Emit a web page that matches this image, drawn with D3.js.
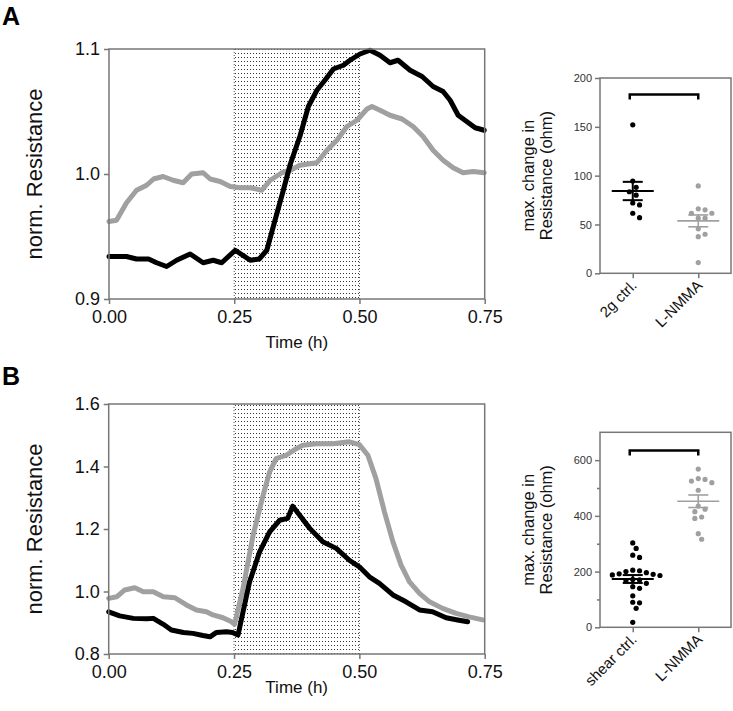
<!DOCTYPE html>
<html>
<head>
<meta charset="utf-8">
<script src="https://cdn.jsdelivr.net/npm/d3@7"></script>
<style>
  body { margin: 0; background: #fff; }
  svg { display: block; font-family: "Liberation Sans", Arial, sans-serif; }
</style>
</head>
<body>
<svg id="fig" width="733" height="711"></svg>
<script>
// panel A traces (time in h, normalised resistance)
var timeA_ctrl = [0, 0.035, 0.055, 0.079, 0.095, 0.115, 0.135, 0.162, 0.188, 0.208, 0.225, 0.252, 0.282, 0.300,
  0.315, 0.328, 0.348, 0.362, 0.381, 0.398, 0.415, 0.431, 0.448, 0.468, 0.481, 0.501, 0.521, 0.541, 0.561,
  0.577, 0.601, 0.625, 0.647, 0.667, 0.681, 0.697, 0.714, 0.731, 0.749];
var resA_ctrl = [0.934, 0.934, 0.932, 0.932, 0.929, 0.926, 0.931, 0.936, 0.929, 0.931, 0.929, 0.939, 0.931, 0.932,
  0.939, 0.958, 0.987, 1.008, 1.030, 1.054, 1.067, 1.075, 1.084, 1.087, 1.091, 1.096, 1.099, 1.095, 1.089,
  1.091, 1.083, 1.078, 1.070, 1.066, 1.059, 1.047, 1.042, 1.037, 1.035];
var timeA_nmma = [0, 0.015, 0.035, 0.055, 0.075, 0.089, 0.108, 0.128, 0.148, 0.165, 0.188, 0.202, 0.222, 0.242,
  0.262, 0.282, 0.305, 0.322, 0.345, 0.362, 0.381, 0.415, 0.435, 0.455, 0.475, 0.495, 0.515, 0.525, 0.541,
  0.561, 0.585, 0.607, 0.627, 0.647, 0.667, 0.687, 0.707, 0.727, 0.749];
var resA_nmma = [0.962, 0.963, 0.977, 0.987, 0.991, 0.996, 0.998, 0.995, 0.993, 1.000, 1.001, 0.996, 0.994, 0.990,
  0.989, 0.989, 0.987, 0.995, 1.001, 1.003, 1.007, 1.009, 1.019, 1.027, 1.038, 1.043, 1.052, 1.054, 1.051,
  1.047, 1.044, 1.038, 1.030, 1.019, 1.011, 1.005, 1.001, 1.002, 1.001];

// panel B traces
var timeB_ctrl = [0, 0.022, 0.049, 0.076, 0.089, 0.109, 0.125, 0.149, 0.168, 0.188, 0.202, 0.215, 0.235, 0.247,
  0.258, 0.268, 0.281, 0.301, 0.321, 0.341, 0.357, 0.367, 0.381, 0.401, 0.427, 0.454, 0.480, 0.500, 0.520,
  0.540, 0.567, 0.593, 0.620, 0.646, 0.673, 0.696, 0.716];
var resB_ctrl = [0.935, 0.922, 0.914, 0.913, 0.914, 0.895, 0.877, 0.869, 0.866, 0.859, 0.855, 0.869, 0.871, 0.869,
  0.861, 0.935, 1.031, 1.127, 1.191, 1.228, 1.234, 1.273, 1.244, 1.202, 1.159, 1.138, 1.100, 1.079, 1.047,
  1.026, 0.989, 0.967, 0.941, 0.935, 0.916, 0.909, 0.903];
var timeB_nmma = [0, 0.016, 0.032, 0.052, 0.069, 0.089, 0.109, 0.132, 0.155, 0.175, 0.195, 0.208, 0.228, 0.245,
  0.251, 0.268, 0.288, 0.308, 0.321, 0.334, 0.354, 0.374, 0.387, 0.414, 0.447, 0.480, 0.500, 0.517, 0.533,
  0.550, 0.567, 0.583, 0.600, 0.620, 0.640, 0.666, 0.693, 0.719, 0.746];
var resB_nmma = [0.978, 0.983, 1.005, 1.012, 0.999, 0.999, 0.983, 0.980, 0.957, 0.941, 0.935, 0.925, 0.916, 0.903,
  0.895, 1.010, 1.180, 1.308, 1.383, 1.425, 1.436, 1.457, 1.468, 1.473, 1.473, 1.479, 1.470, 1.436, 1.362,
  1.255, 1.159, 1.085, 1.031, 0.994, 0.967, 0.946, 0.930, 0.919, 0.909];

var timeTicks = [0, 0.25, 0.5, 0.75];
var resTicksA = [0.9, 1.0, 1.1];
var resTicksB = [0.8, 1.0, 1.2, 1.4, 1.6];
var stimWindow = [0.25, 0.5];

// max. change in resistance (ohm)
var groupsA = ['2g ctrl.', 'L-NMMA'];
var maxA_ctrl = [152, 94.5, 88, 83.5, 80, 72, 70, 61.5, 57];
var maxA_nmma = [89.5, 66, 65, 61.5, 61.5, 56.5, 56.5, 45.5, 40, 37.5, 11];
var ohmTicksA = [0, 50, 100, 150, 200];
var bracketA = 183;

var groupsB = ['shear ctrl.', 'L-NMMA'];
var maxB_ctrl = [303, 283, 259, 251, 205, 203, 200, 196, 192, 190, 188, 186, 172, 170, 168, 158, 146, 140,
  113, 90, 88, 68, 18];
var maxB_nmma = [568, 531, 519, 525, 534, 492, 435, 424, 415, 396, 391, 336, 316];
var ohmTicksB = [0, 200, 400, 600];
var ohmMinorB = [100, 300, 500];
var bracketB = 635;

(function() {
  var svg = d3.select('#fig');
  var frameColor = '#777', black = '#000', gray = '#a0a0a0';

  // dotted fill for the stimulation window
  var pat = svg.append('defs').append('pattern')
    .attr('id', 'dots').attr('patternUnits', 'userSpaceOnUse')
    .attr('width', 3).attr('height', 4);
  pat.append('rect').attr('x', 1).attr('y', 1).attr('width', 1).attr('height', 1).attr('fill', '#333');

  function styleAxis(g, size, color) {
    g.select('.domain').remove();
    g.selectAll('line').attr('stroke', frameColor).attr('stroke-width', 1.5);
    g.selectAll('text').attr('font-size', size).attr('fill', color)
      .attr('font-family', '"Liberation Sans", Arial, sans-serif');
  }

  function tracePanel(o) {
    var x = d3.scaleLinear().domain([0, 0.75]).range([o.left, o.right]);
    var y = d3.scaleLinear().domain(o.yDomain).range([o.bottom, o.top]);
    var g = svg.append('g');

    g.append('rect')
      .attr('x', x(stimWindow[0])).attr('y', o.top)
      .attr('width', x(stimWindow[1]) - x(stimWindow[0])).attr('height', o.bottom - o.top)
      .attr('fill', 'url(#dots)');
    stimWindow.forEach(function(t) {
      g.append('line').attr('x1', x(t)).attr('x2', x(t)).attr('y1', o.top).attr('y2', o.bottom)
        .attr('stroke', '#555').attr('stroke-dasharray', '1,2');
    });

    var line = d3.line()
      .x(function(d) { return x(d[0]); })
      .y(function(d) { return y(d[1]); });

    o.traces.forEach(function(tr) {
      g.append('path')
        .datum(d3.zip(tr.t, tr.v))
        .attr('d', line)
        .attr('fill', 'none')
        .attr('stroke', tr.color)
        .attr('stroke-width', 5)
        .attr('stroke-linejoin', 'round')
        .attr('stroke-linecap', 'round');
    });

    g.append('rect')
      .attr('x', o.left).attr('y', o.top)
      .attr('width', o.right - o.left).attr('height', o.bottom - o.top)
      .attr('fill', 'none').attr('stroke', frameColor).attr('stroke-width', 1.5);

    g.append('g').attr('transform', 'translate(0,' + o.bottom + ')')
      .call(d3.axisBottom(x).tickValues(timeTicks).tickFormat(d3.format('.2f')).tickSize(5).tickPadding(6))
      .call(styleAxis, 18, '#111');
    g.append('g').attr('transform', 'translate(' + o.left + ',0)')
      .call(d3.axisLeft(y).tickValues(o.yTicks).tickFormat(d3.format('.1f')).tickSize(5).tickPadding(4))
      .call(styleAxis, 18, '#111');

    g.append('text')
      .attr('transform', 'translate(42,' + (o.top + o.bottom) / 2 + ') rotate(-90)')
      .attr('text-anchor', 'middle').attr('font-size', 22).attr('fill', '#111')
      .text('norm. Resistance');
    g.append('text')
      .attr('x', (o.left + o.right) / 2).attr('y', o.titleY)
      .attr('text-anchor', 'middle').attr('font-size', 17).attr('fill', '#111')
      .text('Time (h)');
    g.append('text')
      .attr('x', 2).attr('y', o.labelY)
      .attr('font-size', 25).attr('font-weight', 'bold')
      .text(o.label);
  }

  // simple column scatter: nudge points sideways until they do not overlap
  function spread(pys) {
    var step = 3.4, minDist = 6.4, placed = [], out = new Array(pys.length);
    d3.range(pys.length).sort(function(a, b) { return pys[a] - pys[b]; }).forEach(function(i) {
      for (var k = 0; k < 40; k++) {
        var off = (k % 2 ? 1 : -1) * Math.ceil(k / 2) * step;
        var ok = placed.every(function(p) {
          return Math.hypot(p[0] - off, p[1] - pys[i]) >= minDist;
        });
        if (ok) break;
      }
      placed.push([off, pys[i]]);
      out[i] = off;
    });
    return out;
  }

  function scatterPanel(o) {
    var x = d3.scalePoint().domain(o.groups).range([o.left, o.right]).padding(0.5);
    var y = d3.scaleLinear().domain(o.yDomain).range([o.bottom, o.top]);
    var g = svg.append('g');

    g.append('rect')
      .attr('x', o.left).attr('y', o.top)
      .attr('width', o.right - o.left).attr('height', o.bottom - o.top)
      .attr('fill', 'none').attr('stroke', frameColor).attr('stroke-width', 1.5);

    g.append('g').attr('transform', 'translate(0,' + o.bottom + ')')
      .call(d3.axisBottom(x).tickSize(5).tickFormat(''))
      .call(styleAxis, 14, '#111');
    g.append('g').attr('transform', 'translate(' + o.left + ',0)')
      .call(d3.axisLeft(y).tickValues(o.yTicks).tickSize(5).tickPadding(3))
      .call(styleAxis, 11, '#333');
    if (o.minor) {
      g.append('g').attr('transform', 'translate(' + o.left + ',0)')
        .call(d3.axisLeft(y).tickValues(o.minor).tickSize(3).tickFormat(''))
        .call(styleAxis, 11, '#333');
    }

    o.groups.forEach(function(name) {
      g.append('text')
        .attr('transform', 'translate(' + (x(name) + 5) + ',' + (o.bottom + 13) + ') rotate(-45)')
        .attr('text-anchor', 'end').attr('font-size', 15).attr('fill', '#111')
        .text(name);
    });

    o.series.forEach(function(s, i) {
      var cx = x(o.groups[i]);
      var offs = spread(s.values.map(y));
      g.selectAll(null).data(s.values).enter().append('circle')
        .attr('cx', function(d, j) { return cx + offs[j]; })
        .attr('cy', function(d) { return y(d); })
        .attr('r', 2.6)
        .attr('fill', s.color);

      var m = d3.mean(s.values), sem = d3.deviation(s.values) / Math.sqrt(s.values.length);
      var sw = s.color === black ? 2 : 1.6;
      g.append('line').attr('x1', cx - 21).attr('x2', cx + 21).attr('y1', y(m)).attr('y2', y(m))
        .attr('stroke', s.color).attr('stroke-width', sw);
      g.append('line').attr('x1', cx).attr('x2', cx).attr('y1', y(m - sem)).attr('y2', y(m + sem))
        .attr('stroke', s.color).attr('stroke-width', sw);
      [m - sem, m + sem].forEach(function(v) {
        g.append('line').attr('x1', cx - 10).attr('x2', cx + 10).attr('y1', y(v)).attr('y2', y(v))
          .attr('stroke', s.color).attr('stroke-width', sw);
      });
    });

    var by = y(o.bracket), x1 = x(o.groups[0]) - 3, x2 = x(o.groups[1]);
    g.append('path')
      .attr('d', 'M' + x1 + ',' + (by + 5) + 'V' + by + 'H' + x2 + 'V' + (by + 5))
      .attr('fill', 'none').attr('stroke', black).attr('stroke-width', 2.5);

    var ty = g.append('text')
      .attr('transform', 'translate(0,' + (o.top + o.bottom) / 2 + ') rotate(-90)')
      .attr('text-anchor', 'middle').attr('font-size', 16.5).attr('fill', '#111');
    ty.append('tspan').attr('x', 0).attr('y', 534).text('max. change in');
    ty.append('tspan').attr('x', 0).attr('y', 552).text('Resistance (ohm)');
  }

  tracePanel({
    label: 'A', labelY: 25, left: 109, right: 484.7, top: 49, bottom: 299, titleY: 348,
    yDomain: [0.9, 1.1], yTicks: resTicksA,
    traces: [
      { t: timeA_nmma, v: resA_nmma, color: gray },
      { t: timeA_ctrl, v: resA_ctrl, color: black }
    ]
  });
  tracePanel({
    label: 'B', labelY: 385, left: 108.7, right: 484.7, top: 404, bottom: 654, titleY: 693,
    yDomain: [0.8, 1.6], yTicks: resTicksB,
    traces: [
      { t: timeB_nmma, v: resB_nmma, color: gray },
      { t: timeB_ctrl, v: resB_ctrl, color: black }
    ]
  });

  scatterPanel({
    left: 600, right: 731, top: 78, bottom: 273.3,
    groups: groupsA, yDomain: [0, 200], yTicks: ohmTicksA, bracket: bracketA,
    series: [{ values: maxA_ctrl, color: black }, { values: maxA_nmma, color: gray }]
  });
  scatterPanel({
    left: 600, right: 731, top: 432.3, bottom: 627.3,
    groups: groupsB, yDomain: [0, 700], yTicks: ohmTicksB, minor: ohmMinorB, bracket: bracketB,
    series: [{ values: maxB_ctrl, color: black }, { values: maxB_nmma, color: gray }]
  });
})();
</script>
</body>
</html>
